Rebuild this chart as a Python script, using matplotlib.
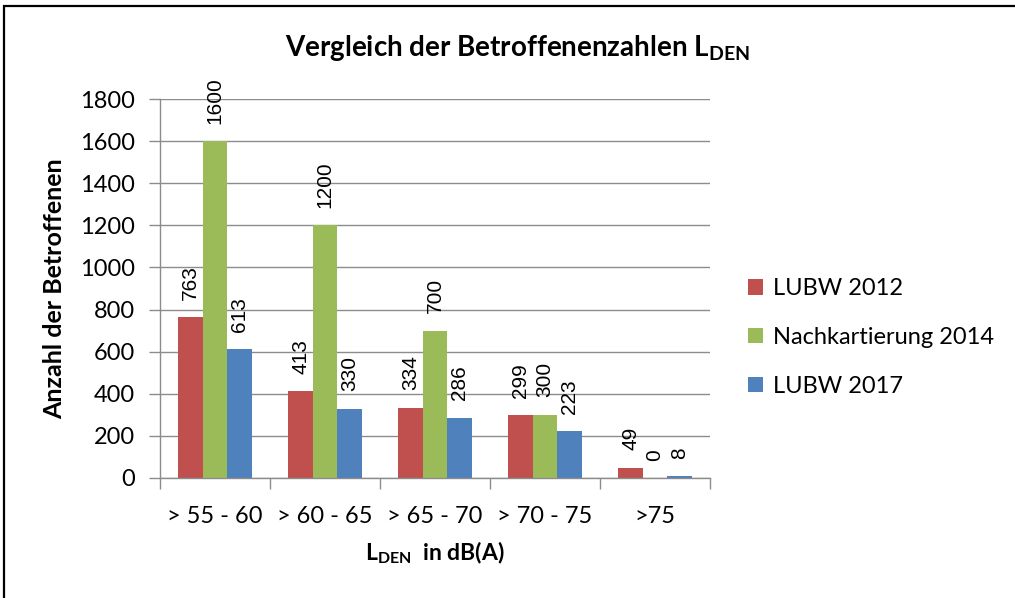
import matplotlib
matplotlib.use('Agg')
import matplotlib.pyplot as plt
import matplotlib.patches as mpatches
import numpy as np

# ── Daten ──────────────────────────────────────────────────────────
kategorien = ['> 55 - 60', '> 60 - 65', '> 65 - 70', '> 70 - 75', '>75']
serien = ['LUBW 2012', 'Nachkartierung 2014', 'LUBW 2017']
lubw_2012 = [763, 413, 334, 299, 49]
nachk_2014 = [1600, 1200, 700, 300, 0]
lubw_2017 = [613, 330, 286, 223, 8]
y_ticks = [0, 200, 400, 600, 800, 1000, 1200, 1400, 1600, 1800]

# ── Farben (Excel 2007) ────────────────────────────────────────────
RED = '#C0504D'
GREEN = '#9BBB59'
BLUE = '#4F81BD'
GRID = '#8C8C8C'

plt.rcParams.update({
    'font.family': 'Lato',
    'mathtext.fontset': 'custom',
    'mathtext.rm': 'Lato:bold',
    'mathtext.it': 'Lato:bold',
    'mathtext.bf': 'Lato:bold',
})

W, H = 1015, 598
fig = plt.figure(figsize=(W / 100, H / 100), dpi=100, facecolor='white')

# Rahmen des Diagrammbereichs (rechts/unten abgeschnitten)
fig.patches.append(mpatches.Rectangle((4 / W, -0.1), 1.2, 1 - 6 / H + 0.1,
                                      transform=fig.transFigure, fill=False,
                                      edgecolor='black', linewidth=1.6))

ax = fig.add_axes([160 / W, (H - 478) / H, 550 / W, (478 - 99) / H])

x = np.arange(len(kategorien))
w = 1 / 4.5
daten = [lubw_2012, nachk_2014, lubw_2017]
farben = [RED, GREEN, BLUE]
for i, (vals, col, name) in enumerate(zip(daten, farben, serien)):
    pos = x + (i - 1) * w
    ax.bar(pos, vals, width=w, color=col, label=name, zorder=2)
    for px, v in zip(pos, vals):
        ax.annotate(str(v), (px, v), xytext=(0, 12.5), textcoords='offset points',
                    rotation=90, ha='center', va='bottom',
                    fontsize=15, family='Liberation Sans')

ax.set_xlim(-0.5, len(kategorien) - 0.5)
ax.set_ylim(0, 1800)
ax.set_yticks(y_ticks)
ax.yaxis.grid(True, color=GRID, linewidth=1.0)
ax.set_axisbelow(True)

ax.set_xticks(np.arange(-0.5, len(kategorien)), labels=[''] * (len(kategorien) + 1))
ax.set_xticks(x, labels=kategorien, minor=True)
ax.tick_params(axis='x', which='major', length=8, width=1, color=GRID, direction='out')
ax.tick_params(axis='x', which='minor', length=0, pad=20, labelsize=17)
ax.tick_params(axis='y', length=8, width=1, color=GRID, direction='out', pad=10, labelsize=17)

for s in ['top', 'right']:
    ax.spines[s].set_visible(False)
for s in ['left', 'bottom']:
    ax.spines[s].set_color(GRID)
    ax.spines[s].set_linewidth(1.0)

ax.set_ylabel('Anzahl der Betroffenen', fontsize=18, fontweight='bold', labelpad=10)
ax.set_xlabel(r'$\mathrm{L}_{\mathrm{DEN}}$  in dB(A)', fontsize=16.5, fontweight='bold', labelpad=9)

fig.text(517 / W, 1 - 48 / H, r'Vergleich der Betroffenenzahlen $\mathrm{L}_{\mathrm{DEN}}$',
         ha='center', va='center', fontsize=20, fontweight='bold')

fig.legend(loc='upper left', bbox_to_anchor=(748 / W, 1 - 278 / H), frameon=False,
           fontsize=17, handlelength=0.65, handleheight=0.65, handletextpad=0.4,
           labelspacing=1.18, borderaxespad=0, borderpad=0)

fig.savefig('out.png', dpi=100, facecolor='white')
